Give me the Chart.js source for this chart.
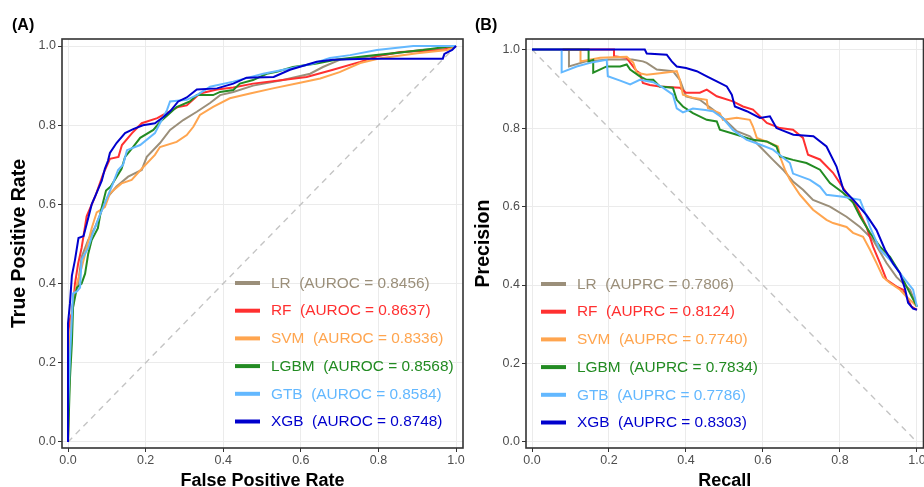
<!DOCTYPE html>
<html>
<head>
<meta charset="utf-8">
<script src="https://cdn.jsdelivr.net/npm/chart.js@4.4.1/dist/chart.umd.min.js"></script>
<style>
  html, body { margin: 0; padding: 0; background: #fff; width: 924px; height: 487px; overflow: hidden; }
  #rocWrap { position: absolute; left: 0; top: 0; }
  #prWrap { position: absolute; left: 464px; top: 0; }
</style>
</head>
<body>
<div id="rocWrap"><canvas id="roc" width="470" height="487"></canvas></div>
<div id="prWrap"><canvas id="pr" width="470" height="487"></canvas></div>
<script>
// models and scores
var models = ['LR', 'RF', 'SVM', 'LGBM', 'GTB', 'XGB'];
var auroc = ['0.8456', '0.8637', '0.8336', '0.8568', '0.8584', '0.8748'];
var auprc = ['0.7806', '0.8124', '0.7740', '0.7834', '0.7786', '0.8303'];
var axisTicks = [0, 0.2, 0.4, 0.6, 0.8, 1.0];

// ROC curves, [fpr, tpr]
var rocLR = [[0,0],[0.005,0.23],[0.01,0.34],[0.018,0.375],[0.026,0.40],[0.035,0.467],[0.052,0.51],[0.07,0.543],[0.087,0.585],[0.103,0.62],[0.125,0.645],[0.155,0.67],[0.19,0.687],[0.203,0.72],[0.237,0.755],[0.263,0.788],[0.297,0.813],[0.332,0.834],[0.366,0.856],[0.392,0.876],[0.426,0.884],[0.477,0.90],[0.554,0.914],[0.624,0.93],[0.657,0.947],[0.70,0.965],[0.81,0.977],[0.907,0.99],[0.985,0.995],[1,1]];
var rocRF = [[0,0],[0,0.27],[0.005,0.31],[0.012,0.33],[0.018,0.40],[0.026,0.45],[0.035,0.49],[0.048,0.57],[0.07,0.62],[0.09,0.675],[0.108,0.715],[0.13,0.72],[0.139,0.75],[0.165,0.78],[0.19,0.805],[0.23,0.818],[0.245,0.826],[0.284,0.846],[0.306,0.85],[0.34,0.88],[0.384,0.89],[0.426,0.895],[0.477,0.905],[0.538,0.912],[0.615,0.922],[0.683,0.94],[0.753,0.96],[0.80,0.975],[0.856,0.985],[0.967,0.99],[1,1]];
var rocSVM = [[0,0],[0.005,0.265],[0.013,0.35],[0.023,0.40],[0.035,0.44],[0.048,0.49],[0.061,0.54],[0.074,0.58],[0.095,0.593],[0.108,0.628],[0.138,0.653],[0.164,0.662],[0.19,0.69],[0.224,0.725],[0.237,0.745],[0.28,0.758],[0.306,0.775],[0.323,0.796],[0.34,0.826],[0.374,0.846],[0.417,0.868],[0.469,0.88],[0.528,0.893],[0.598,0.907],[0.65,0.918],[0.70,0.934],[0.753,0.957],[0.81,0.97],[0.90,0.982],[0.977,0.99],[1,1]];
var rocLGBM = [[0,0],[0.005,0.16],[0.01,0.25],[0.013,0.34],[0.023,0.39],[0.035,0.40],[0.044,0.425],[0.052,0.475],[0.061,0.51],[0.077,0.54],[0.085,0.585],[0.098,0.635],[0.11,0.645],[0.138,0.69],[0.147,0.72],[0.168,0.745],[0.186,0.768],[0.22,0.788],[0.237,0.808],[0.28,0.846],[0.314,0.86],[0.332,0.876],[0.374,0.876],[0.392,0.884],[0.426,0.889],[0.443,0.905],[0.477,0.914],[0.512,0.93],[0.538,0.935],[0.58,0.947],[0.641,0.956],[0.693,0.966],[0.77,0.975],[0.915,0.99],[0.977,0.998],[1,1]];
var rocGTB = [[0,0],[0,0.08],[0.005,0.21],[0.01,0.315],[0.013,0.375],[0.023,0.38],[0.031,0.39],[0.035,0.46],[0.052,0.49],[0.064,0.527],[0.082,0.573],[0.1,0.615],[0.116,0.653],[0.129,0.687],[0.142,0.70],[0.152,0.737],[0.186,0.75],[0.224,0.78],[0.237,0.805],[0.255,0.838],[0.263,0.86],[0.306,0.864],[0.332,0.876],[0.366,0.897],[0.426,0.91],[0.503,0.93],[0.572,0.943],[0.632,0.956],[0.675,0.97],[0.727,0.977],[0.796,0.99],[0.89,1],[1,1]];
var rocXGB = [[0,0],[0,0.30],[0.005,0.35],[0.01,0.42],[0.018,0.46],[0.027,0.515],[0.04,0.52],[0.048,0.55],[0.061,0.60],[0.074,0.63],[0.087,0.66],[0.095,0.69],[0.103,0.71],[0.108,0.73],[0.125,0.755],[0.147,0.78],[0.168,0.79],[0.193,0.80],[0.224,0.805],[0.245,0.82],[0.263,0.835],[0.284,0.86],[0.306,0.87],[0.332,0.89],[0.384,0.893],[0.426,0.905],[0.46,0.92],[0.53,0.922],[0.572,0.94],[0.641,0.96],[0.683,0.965],[0.77,0.968],[0.966,0.968],[0.97,0.98],[0.99,0.99],[1,1]];
var rocChance = [[0,0],[1,1]];

// PR curves, [recall, precision]
var prLR = [[0,1],[0.096,1],[0.096,0.957],[0.14,0.97],[0.2,0.975],[0.26,0.975],[0.288,0.97],[0.298,0.966],[0.324,0.949],[0.366,0.945],[0.384,0.923],[0.40,0.881],[0.436,0.872],[0.47,0.847],[0.496,0.826],[0.532,0.792],[0.566,0.779],[0.592,0.753],[0.626,0.719],[0.652,0.694],[0.678,0.664],[0.704,0.643],[0.73,0.617],[0.774,0.60],[0.817,0.574],[0.852,0.548],[0.886,0.515],[0.921,0.456],[0.947,0.42],[0.982,0.388],[1,0.345]];
var prRF = [[0,1],[0.213,1],[0.213,0.983],[0.246,0.979],[0.255,0.967],[0.272,0.945],[0.28,0.94],[0.288,0.915],[0.306,0.91],[0.332,0.906],[0.384,0.903],[0.40,0.89],[0.436,0.89],[0.454,0.898],[0.48,0.881],[0.522,0.868],[0.548,0.855],[0.574,0.847],[0.61,0.813],[0.644,0.80],[0.678,0.796],[0.704,0.775],[0.717,0.732],[0.748,0.72],[0.782,0.686],[0.817,0.635],[0.843,0.60],[0.869,0.548],[0.886,0.498],[0.904,0.456],[0.921,0.413],[0.947,0.396],[0.964,0.388],[0.986,0.345],[1,0.337]];
var prSVM = [[0,1],[0.126,1],[0.126,0.97],[0.177,0.979],[0.246,0.982],[0.263,0.967],[0.272,0.941],[0.298,0.936],[0.332,0.94],[0.376,0.945],[0.384,0.923],[0.392,0.885],[0.418,0.877],[0.454,0.872],[0.457,0.851],[0.488,0.838],[0.496,0.821],[0.532,0.826],[0.566,0.821],[0.574,0.804],[0.584,0.775],[0.618,0.762],[0.639,0.753],[0.644,0.728],[0.657,0.694],[0.67,0.668],[0.696,0.63],[0.73,0.592],[0.765,0.566],[0.782,0.558],[0.817,0.548],[0.834,0.533],[0.86,0.523],[0.878,0.49],[0.895,0.456],[0.912,0.42],[0.93,0.405],[0.956,0.388],[0.973,0.37],[0.99,0.355],[1,0.345]];
var prLGBM = [[0,1],[0.147,1],[0.147,0.97],[0.159,0.974],[0.159,0.941],[0.194,0.957],[0.229,0.957],[0.246,0.962],[0.255,0.949],[0.28,0.932],[0.298,0.923],[0.315,0.923],[0.332,0.906],[0.366,0.903],[0.376,0.872],[0.392,0.855],[0.418,0.838],[0.454,0.821],[0.48,0.817],[0.488,0.796],[0.532,0.783],[0.574,0.77],[0.61,0.766],[0.635,0.753],[0.644,0.728],[0.678,0.719],[0.713,0.711],[0.748,0.694],[0.774,0.66],[0.808,0.635],[0.834,0.61],[0.852,0.575],[0.878,0.533],[0.904,0.498],[0.93,0.472],[0.956,0.43],[0.973,0.396],[1,0.345]];
var prGTB = [[0,1],[0.077,1],[0.077,0.942],[0.116,0.957],[0.158,0.968],[0.194,0.974],[0.197,0.932],[0.229,0.921],[0.255,0.911],[0.28,0.923],[0.315,0.917],[0.34,0.903],[0.366,0.885],[0.376,0.85],[0.392,0.84],[0.418,0.85],[0.45,0.846],[0.47,0.843],[0.496,0.825],[0.522,0.795],[0.558,0.77],[0.592,0.758],[0.626,0.745],[0.67,0.711],[0.678,0.684],[0.722,0.668],[0.748,0.651],[0.765,0.63],[0.808,0.625],[0.852,0.617],[0.865,0.585],[0.878,0.548],[0.904,0.49],[0.93,0.464],[0.964,0.42],[0.99,0.388],[1,0.345]];
var prXGB = [[0,1],[0.293,1],[0.298,0.99],[0.35,0.987],[0.363,0.97],[0.376,0.957],[0.40,0.953],[0.428,0.945],[0.454,0.932],[0.48,0.919],[0.506,0.906],[0.519,0.885],[0.527,0.855],[0.558,0.843],[0.592,0.826],[0.618,0.83],[0.635,0.80],[0.679,0.783],[0.731,0.779],[0.765,0.753],[0.791,0.702],[0.809,0.643],[0.835,0.617],[0.869,0.578],[0.895,0.54],[0.917,0.49],[0.938,0.455],[0.956,0.43],[0.969,0.39],[0.977,0.355],[0.99,0.34],[1,0.337]];
var prChance = [[0,1],[1,0]];

var colors = ['#9b8f7a', '#ff3030', '#ffa54f', '#228b22', '#63b8ff', '#0000cd'];
var FONT = '"Liberation Sans", Arial, Helvetica, sans-serif';

// frame, inside legend and panel tag
var panelDecor = {
    id: 'panelDecor',
    afterDatasetsDraw: function(chart, args, opts) {
        var ctx = chart.ctx, a = chart.chartArea;
        ctx.save();
        ctx.strokeStyle = '#333333';
        ctx.lineWidth = 1.6;
        ctx.strokeRect(a.left, a.top, a.right - a.left, a.bottom - a.top);

        ctx.font = '15.4px ' + FONT;
        ctx.textBaseline = 'middle';
        ctx.textAlign = 'left';
        opts.labels.forEach(function(txt, i) {
            var x = a.left + opts.legendLeft;
            var y = a.top + opts.legendTop + i * opts.legendGap;
            ctx.strokeStyle = colors[i];
            ctx.lineWidth = 4;
            ctx.beginPath();
            ctx.moveTo(x, y);
            ctx.lineTo(x + 25, y);
            ctx.stroke();
            ctx.fillStyle = colors[i];
            ctx.fillText(txt, x + 36, y + 0.5);
        });

        ctx.font = 'bold 16px ' + FONT;
        ctx.fillStyle = '#000';
        ctx.fillText(opts.tag, opts.tagX, opts.tagY);
        ctx.restore();
    }
};

function toPoints(arr) {
    return arr.map(function(p) { return { x: p[0], y: p[1] }; });
}

function makePanel(id, curves, chance, range, titles, decor, padRight) {
    var datasets = curves.map(function(c, i) {
        return {
            label: models[i],
            data: toPoints(c),
            showLine: true,
            borderColor: colors[i],
            backgroundColor: colors[i],
            borderWidth: 2,
            pointRadius: 0,
            tension: 0,
            order: models.length - i
        };
    });
    datasets.push({
        label: 'chance',
        data: toPoints(chance),
        showLine: true,
        borderColor: '#c4c4c4',
        borderWidth: 1.4,
        borderDash: [6, 5],
        pointRadius: 0,
        order: 99
    });

    var tickFont = { family: FONT, size: 12.5 };
    return new Chart(document.getElementById(id), {
        type: 'scatter',
        data: { datasets: datasets },
        plugins: [panelDecor],
        options: {
            responsive: false,
            animation: false,
            devicePixelRatio: 1,
            layout: { padding: { top: 39, right: padRight, bottom: 0, left: 0 } },
            plugins: {
                legend: { display: false },
                tooltip: { enabled: false },
                panelDecor: decor
            },
            scales: {
                x: {
                    type: 'linear',
                    position: 'bottom',
                    min: range.xMin,
                    max: range.xMax,
                    afterBuildTicks: function(s) { s.ticks = axisTicks.map(function(v) { return { value: v }; }); },
                    afterFit: function(s) { s.height = 39; },
                    ticks: {
                        callback: function(v) { return v.toFixed(1); },
                        color: '#4d4d4d',
                        font: tickFont,
                        padding: 1,
                        maxRotation: 0,
                        autoSkip: false
                    },
                    grid: { color: '#ebebeb', lineWidth: 1, tickColor: '#333333', tickLength: 4 },
                    border: { display: false },
                    title: {
                        display: true,
                        text: titles[0],
                        color: '#000',
                        font: { family: FONT, size: 18, weight: 'bold', lineHeight: 1 },
                        padding: { top: 0, bottom: -3 }
                    }
                },
                y: {
                    type: 'linear',
                    position: 'left',
                    min: range.yMin,
                    max: range.yMax,
                    afterBuildTicks: function(s) { s.ticks = axisTicks.map(function(v) { return { value: v }; }); },
                    afterFit: function(s) { s.width = 62; },
                    ticks: {
                        callback: function(v) { return v.toFixed(1); },
                        color: '#4d4d4d',
                        font: tickFont,
                        padding: 2
                    },
                    grid: { color: '#ebebeb', lineWidth: 1, tickColor: '#333333', tickLength: 4 },
                    border: { display: false },
                    title: {
                        display: true,
                        text: titles[1],
                        color: '#000',
                        font: { family: FONT, size: 19.5, weight: 'bold', lineHeight: 1.2 },
                        padding: { top: 8, bottom: 0 }
                    }
                }
            }
        }
    });
}

makePanel('roc',
    [rocLR, rocRF, rocSVM, rocLGBM, rocGTB, rocXGB], rocChance,
    { xMin: -0.0155, xMax: 1.018, yMin: -0.0152, yMax: 1.0177 },
    ['False Positive Rate', 'True Positive Rate'],
    {
        labels: models.map(function(m, i) { return m + '  (AUROC = ' + auroc[i] + ')'; }),
        legendLeft: 173, legendTop: 244, legendGap: 27.7,
        tag: '(A)', tagX: 12, tagY: 25.5
    }, 7);

makePanel('pr',
    [prLR, prRF, prSVM, prLGBM, prGTB, prXGB], prChance,
    { xMin: -0.0156, xMax: 1.017, yMin: -0.0153, yMax: 1.027 },
    ['Recall', 'Precision'],
    {
        labels: models.map(function(m, i) { return m + '  (AUPRC = ' + auprc[i] + ')'; }),
        legendLeft: 15, legendTop: 245, legendGap: 27.7,
        tag: '(B)', tagX: 11, tagY: 25.5
    }, 10.5);
</script>
</body>
</html>
